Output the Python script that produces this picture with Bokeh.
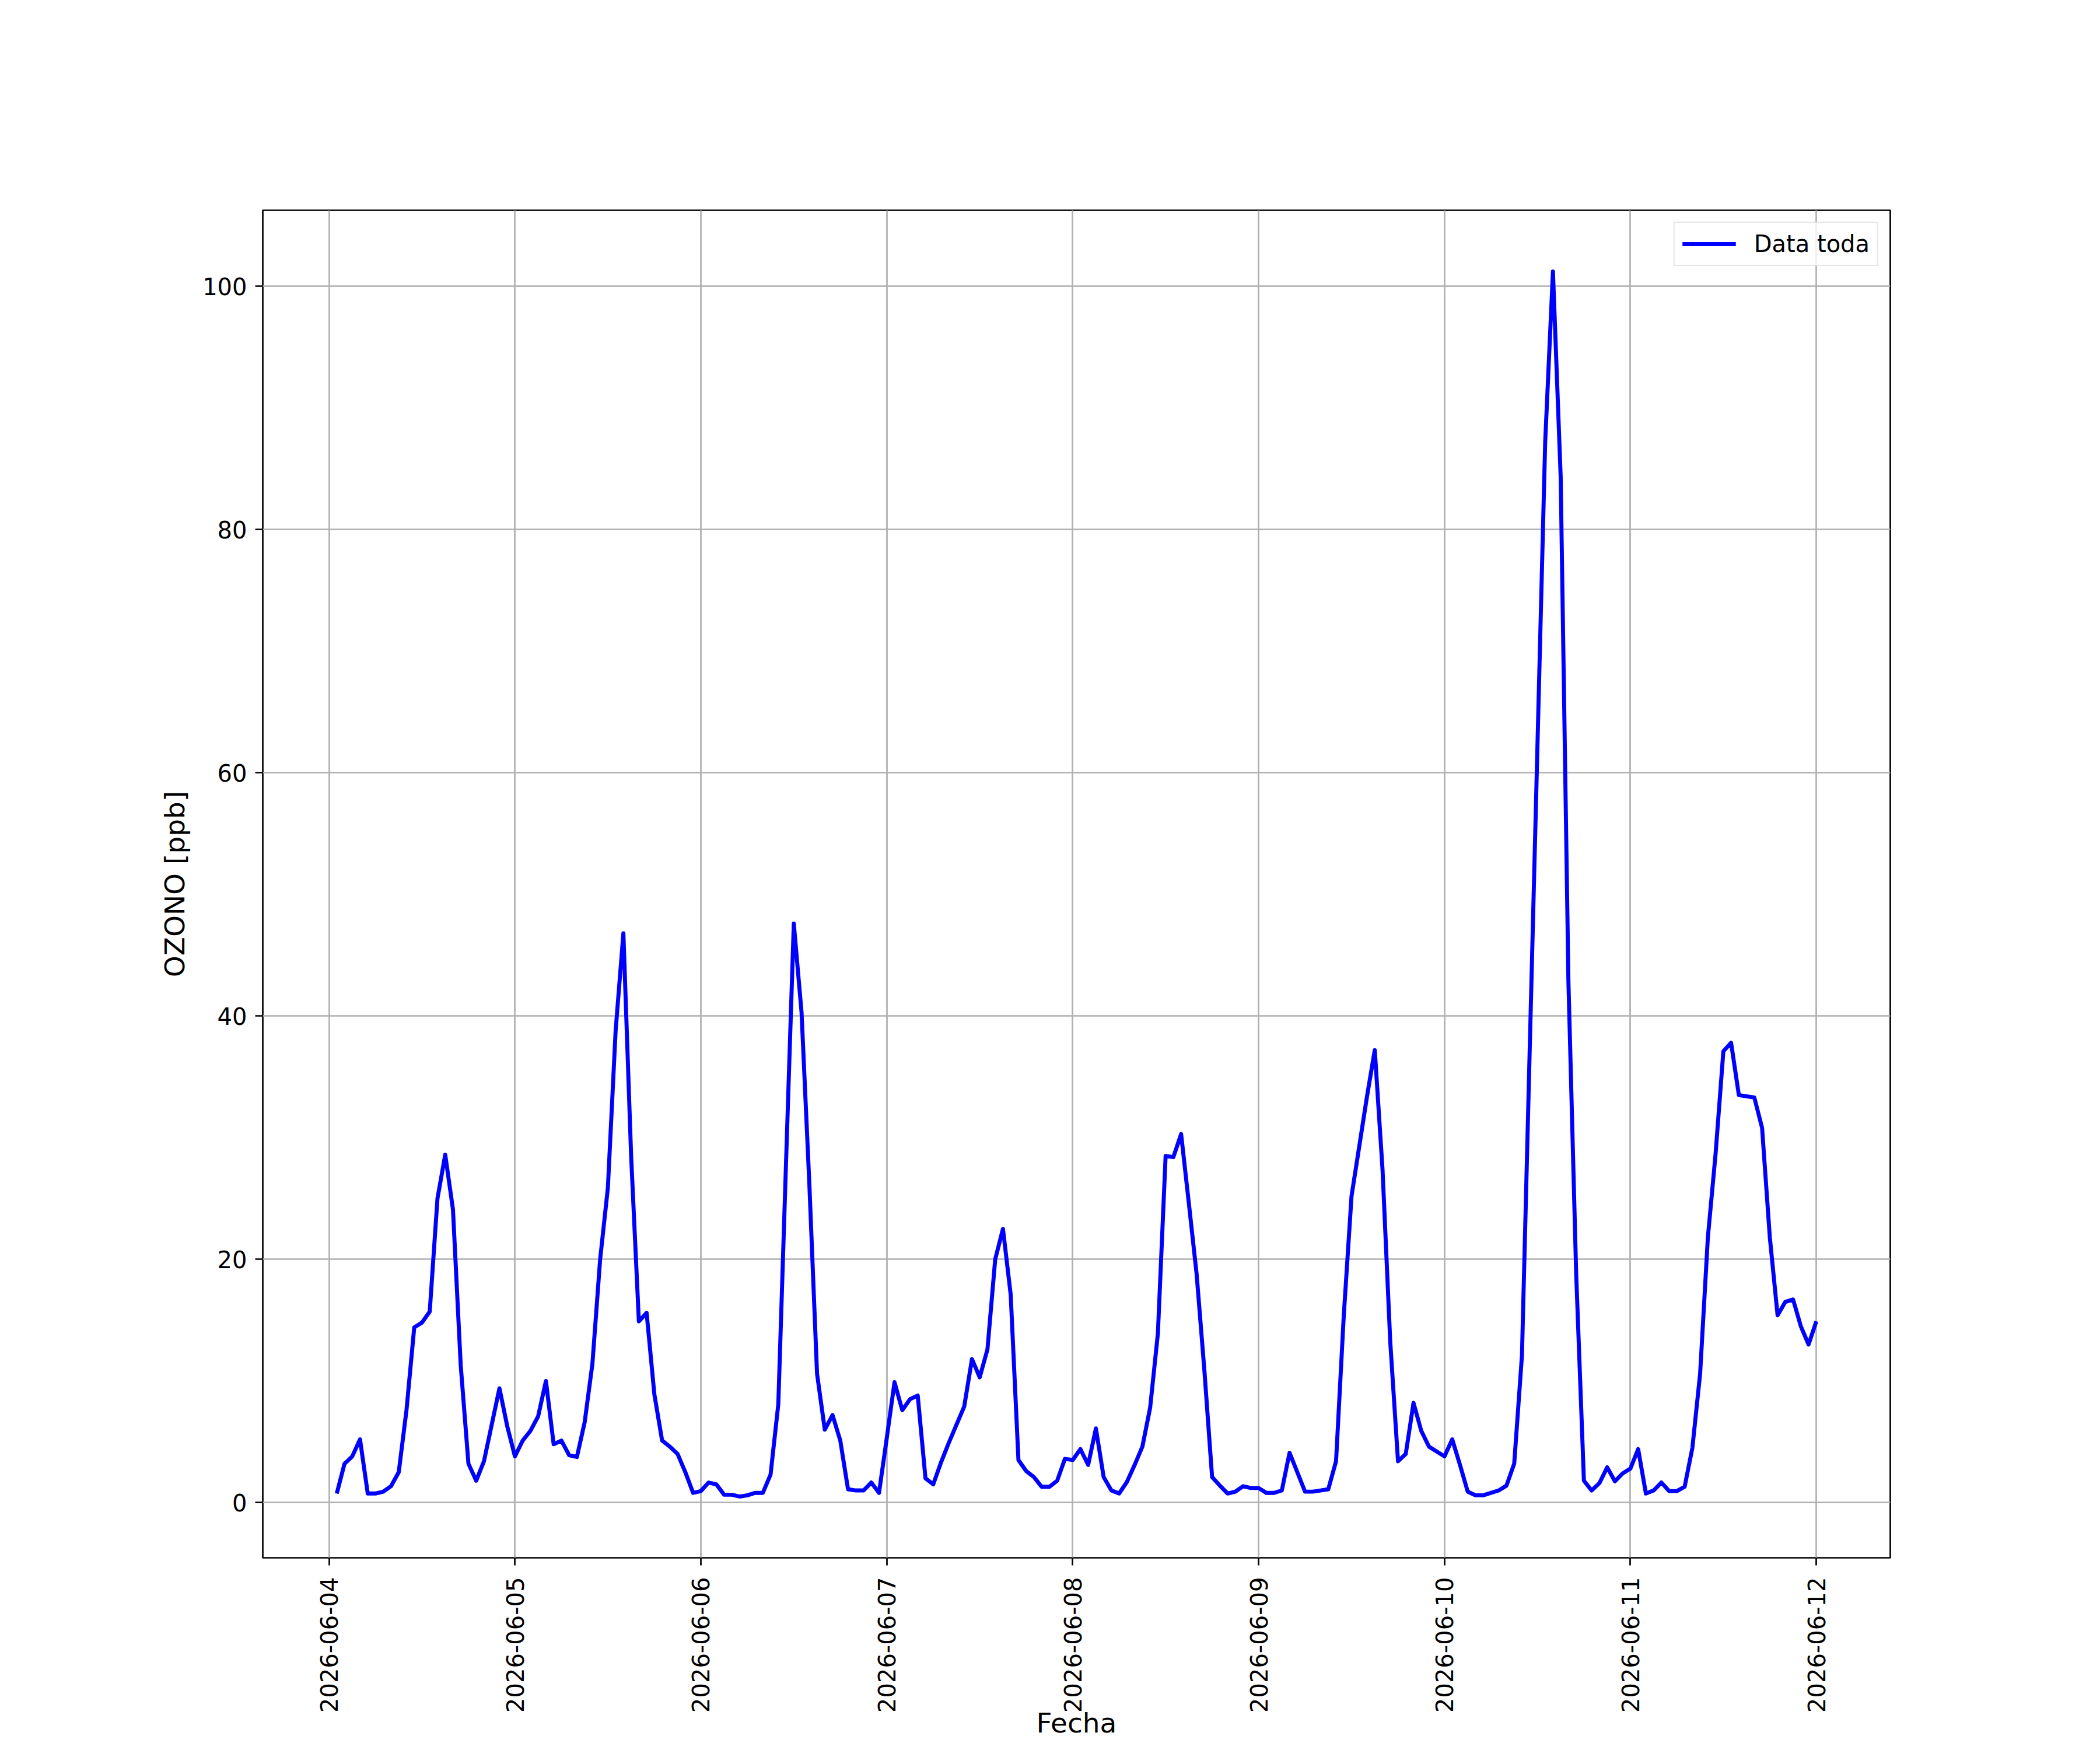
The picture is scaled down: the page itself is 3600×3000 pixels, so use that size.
import math
import pandas as pd
from bokeh.plotting import figure
from bokeh.models import FixedTicker, DatetimeTickFormatter, Range1d, ColumnDataSource
from bokeh.embed import file_html
from bokeh.resources import INLINE

# ---- data (hourly ozone, ppb) ----
start_time = "2026-06-04 01:00"
ozono_0604 = [0.75, 3.2, 3.8, 5.2, 0.75, 0.75, 0.9, 1.35, 2.5, 7.6, 14.4, 14.8, 15.7,
              25.0, 28.6, 24.1, 11.3, 3.2, 1.8, 3.4, 6.4, 9.4, 6.3]
ozono_0605 = [3.8, 5.1, 5.9, 7.1, 10.0, 4.8, 5.1, 3.9, 3.75, 6.6, 11.4, 20.0, 25.9,
              38.8, 46.8, 28.5, 14.9, 15.6, 8.9, 5.1, 4.6, 4.0, 2.5, 0.8]
ozono_0606 = [0.95, 1.65, 1.5, 0.65, 0.65, 0.5, 0.6, 0.8, 0.8, 2.3, 8.1, 28.0, 47.6,
              40.3, 26.3, 10.6, 6.0, 7.2, 5.1, 1.1, 1.0, 1.0, 1.65, 0.8]
ozono_0607 = [5.3, 9.9, 7.6, 8.5, 8.8, 2.0, 1.5, 3.3, 4.9, 6.4, 7.9, 11.8, 10.3,
              12.6, 20.0, 22.5, 17.1, 3.5, 2.6, 2.1, 1.3, 1.3, 1.8, 3.6]
ozono_0608 = [3.5, 4.4, 3.1, 6.1, 2.1, 1.0, 0.75, 1.7, 3.1, 4.6, 7.8, 13.9, 28.5,
              28.4, 30.3, 24.6, 18.8, 10.9, 2.1, 1.4, 0.75, 0.9, 1.35, 1.2]
ozono_0609 = [1.2, 0.8, 0.8, 1.0, 4.1, 2.5, 0.9, 0.9, 1.0, 1.1, 3.4, 15.4, 25.2,
              29.3, 33.4, 37.2, 27.4, 13.2, 3.4, 4.0, 8.2, 5.9, 4.6, 4.2]
ozono_0610 = [3.8, 5.2, 3.1, 0.9, 0.6, 0.6, 0.8, 1.0, 1.4, 3.2, 12.1, 37.2, 62.2,
              87.2, 101.2, 84.3, 42.8, 18.8, 1.8, 1.0, 1.6, 2.9, 1.75, 2.4]
ozono_0611 = [2.8, 4.4, 0.75, 1.0, 1.65, 0.95, 0.95, 1.3, 4.5, 10.6, 21.8, 28.7, 37.1,
              37.8, 33.5, 33.4, 33.3, 30.8, 21.8, 15.4, 16.5, 16.7, 14.5, 13.0]
ozono_0612 = [14.9]

tick_dates = ["2026-06-04", "2026-06-05", "2026-06-06", "2026-06-07", "2026-06-08",
              "2026-06-09", "2026-06-10", "2026-06-11", "2026-06-12"]
y_ticks = [0, 20, 40, 60, 80, 100]

series_label = "Data toda"
x_label = "Fecha"
y_label = "OZONO [ppb]"

values = (ozono_0604 + ozono_0605 + ozono_0606 + ozono_0607 + ozono_0608 +
          ozono_0609 + ozono_0610 + ozono_0611 + ozono_0612)
times = pd.date_range(start_time, periods=len(values), freq="h")
src = ColumnDataSource(dict(t=times, v=values))

# ranges with 5% margins (matplotlib default)
t0, t1 = times[0], times[-1]
dt = (t1 - t0) * 0.05
vmin, vmax = min(values), max(values)
dv = (vmax - vmin) * 0.05
x_start, x_end = t0 - dt, t1 + dt
y_start, y_end = vmin - dv, vmax + dv

FONT = "DejaVu Sans"
FS = "40px"
FS_LABEL = "47px"
LW = 2.7

W, H = 3584, 2984
B_LEFT, B_RIGHT, B_TOP, B_BOTTOM = 450, 344, 360, 314

p = figure(width=W, height=H, x_axis_type="datetime",
           output_backend="svg", toolbar_location=None,
           x_range=Range1d(x_start, x_end), y_range=Range1d(y_start, y_end),
           min_border_left=B_LEFT, min_border_right=B_RIGHT, min_border_top=B_TOP,
           min_border_bottom=B_BOTTOM)
p.background_fill_color = "white"
p.border_fill_color = "white"
p.outline_line_color = "black"
p.outline_line_width = LW

p.line("t", "v", source=src, line_color="#0000ff", line_width=6.9,
       line_join="round", legend_label=series_label)

tick_ms = [pd.Timestamp(d).value / 1e6 for d in tick_dates]
p.xaxis.ticker = FixedTicker(ticks=tick_ms)
p.xaxis.formatter = DatetimeTickFormatter(days="%Y-%m-%d", months="%Y-%m-%d",
                                          hours="%Y-%m-%d")
p.yaxis.ticker = FixedTicker(ticks=y_ticks)
p.xaxis.major_label_orientation = math.pi / 2

for ax in (p.xaxis[0], p.yaxis[0]):
    ax.axis_line_color = None
    ax.major_tick_line_color = "black"
    ax.major_tick_line_width = LW
    ax.major_tick_out = 13
    ax.major_tick_in = 0
    ax.minor_tick_line_color = None
    ax.major_label_text_font = FONT
    ax.major_label_text_font_size = FS
    ax.major_label_text_color = "black"
    ax.axis_label_text_font = FONT
    ax.axis_label_text_font_size = FS_LABEL
    ax.axis_label_text_font_style = "normal"
    ax.axis_label_text_color = "black"

p.xaxis.major_label_standoff = 20
p.yaxis.major_label_standoff = 14
p.yaxis.axis_label = y_label
p.yaxis.axis_label_standoff = 17
p.xaxis.axis_label = x_label
p.xaxis.axis_label_standoff = -13

for g in (p.xgrid[0], p.ygrid[0]):
    g.grid_line_color = "#b0b0b0"
    g.grid_line_width = LW

lg = p.legend[0]
lg.location = "top_right"
lg.margin = 20
lg.padding = 13
lg.spacing = 0
lg.label_text_font = FONT
lg.label_text_font_size = FS
lg.label_text_color = "black"
lg.label_standoff = 31
lg.glyph_width = 92
lg.glyph_height = 40
lg.label_height = 40
lg.border_line_color = "#cccccc"
lg.border_line_width = LW
lg.background_fill_color = "white"
lg.background_fill_alpha = 0.8

open("out.html", "w").write(file_html(p, INLINE))
